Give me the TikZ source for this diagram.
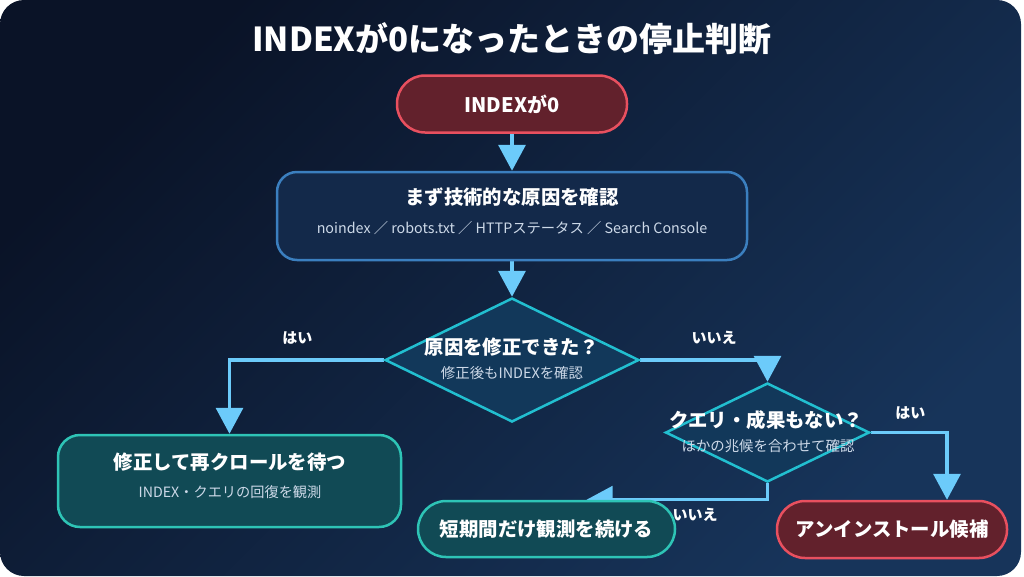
\documentclass[tikz,border=0pt]{standalone}
\usepackage{fontspec}
\setmainfont{Noto Sans CJK JP}
\usetikzlibrary{shapes.geometric,arrows.meta}

\definecolor{bgdark}{HTML}{0A1327}
\definecolor{bglight}{HTML}{17345A}
\definecolor{flowline}{HTML}{6CCBFA}
\definecolor{redfill}{HTML}{62212C}
\definecolor{redline}{HTML}{E8505F}
\definecolor{tealfill}{HTML}{114A55}
\definecolor{tealline}{HTML}{2EC4B6}
\definecolor{bluefill}{HTML}{13294A}
\definecolor{blueline}{HTML}{3B7FBF}
\definecolor{askfill}{HTML}{12385A}
\definecolor{askline}{HTML}{22BFD0}
\definecolor{notegray}{HTML}{CDD9E8}

\pgfdeclarelayer{backdrop}
\pgfdeclarelayer{links}
\pgfsetlayers{backdrop,links,main}

\tikzset{
  box/.style={draw, line width=2.5pt, inner sep=0pt, text=white},
  terminal/.style={box, fill=redfill, draw=redline, rounded corners=28pt,
    minimum width=230pt, minimum height=57pt},
  stepbox/.style={box, fill=bluefill, draw=blueline, rounded corners=20pt},
  actionbox/.style={box, fill=tealfill, draw=tealline, rounded corners=22pt},
  decision/.style={box, diamond, fill=askfill, draw=askline},
  headtext/.style={inner sep=0pt, text=white, font=\fontsize{19.4}{23}\selectfont\bfseries},
  notetext/.style={inner sep=0pt, text=notegray, font=\fontsize{14.4}{18}\selectfont},
  answer/.style={inner sep=0pt, text=white, font=\fontsize{15}{18}\selectfont\bfseries},
  flow/.style={draw=flowline, line width=3.4pt, -{Triangle[width=27pt,length=26pt]}}
}

\begin{document}
\begin{tikzpicture}[x=1pt,y=-1pt]
  \useasboundingbox (0,0) rectangle (1024,576);

  \node (heading) [text=white, font=\fontsize{33}{40}\selectfont\bfseries] at (512,39)
    {INDEXが0になったときの停止判断};

  % start
  \node (start) [terminal, font=\fontsize{20}{24}\selectfont\bfseries] at (512,104) {INDEXが0};

  % technical check
  \node (check) [stepbox, minimum width=470pt, minimum height=88pt] at (512,216) {};
  \node (check title) [headtext] at (512,197) {まず技術的な原因を確認};
  \node (check note) [notetext, font=\fontsize{14.3}{18}\selectfont] at (512,228)
    {noindex ／ robots.txt ／ HTTPステータス ／ Search Console};

  % first question
  \node (fixed) [decision, minimum width=254pt, minimum height=124pt] at (512,360) {};
  \node (fixed title) [headtext] at (512,347) {原因を修正できた？};
  \node (fixed note) [notetext] at (512,373) {修正後もINDEXを確認};

  % second question
  \node (signals) [decision, minimum width=204pt, minimum height=99pt] at (767.5,432.5) {};
  \node (signals title) [headtext] at (766,420) {クエリ・成果もない？};
  \node (signals note) [notetext] at (768,446) {ほかの兆候を合わせて確認};

  % outcomes
  \node (recrawl) [actionbox, minimum width=343pt, minimum height=92pt] at (229.5,481) {};
  \node (recrawl title) [headtext] at (230,462) {修正して再クロールを待つ};
  \node (recrawl note) [notetext, font=\fontsize{14.2}{18}\selectfont] at (230,492)
    {INDEX・クエリの回復を観測};

  \node (watch) [actionbox, rounded corners=28pt, minimum width=257pt, minimum height=56pt,
    font=\fontsize{19.4}{23}\selectfont\bfseries] at (546.5,529) {短期間だけ観測を続ける};
  \node (remove) [terminal, font=\fontsize{19.4}{23}\selectfont\bfseries] at (892,529.5)
    {アンインストール候補};

  \begin{pgfonlayer}{links}
    \draw[flow] (start) -- (check);
    \draw[flow] (check) -- (fixed);
    \draw[flow] (fixed.west) -| node (yes1) [answer, pos=0.28, above=13.5pt] {はい} (recrawl.north);
    \draw[flow] (fixed.east) -| node (no1) [answer, pos=0.29, above=13.5pt] {いいえ} (signals.north);
    \draw[flow] (signals.east) -| node (yes2) [answer, pos=0.26, above=11.5pt] {はい}
      ([xshift=55pt]remove.north);
    \draw[flow] (signals.south) |- node (no2) [answer, pos=0.7, below=6.5pt] {いいえ}
      ([xshift=40pt]watch.north);
  \end{pgfonlayer}

  \begin{pgfonlayer}{backdrop}
    \fill[white] (0,0) rectangle (1024,576);
    \shade[left color=bgdark, right color=bglight, shading angle=45, rounded corners=24pt]
      (0,0) rectangle (1021,576);
  \end{pgfonlayer}
\end{tikzpicture}
\end{document}
